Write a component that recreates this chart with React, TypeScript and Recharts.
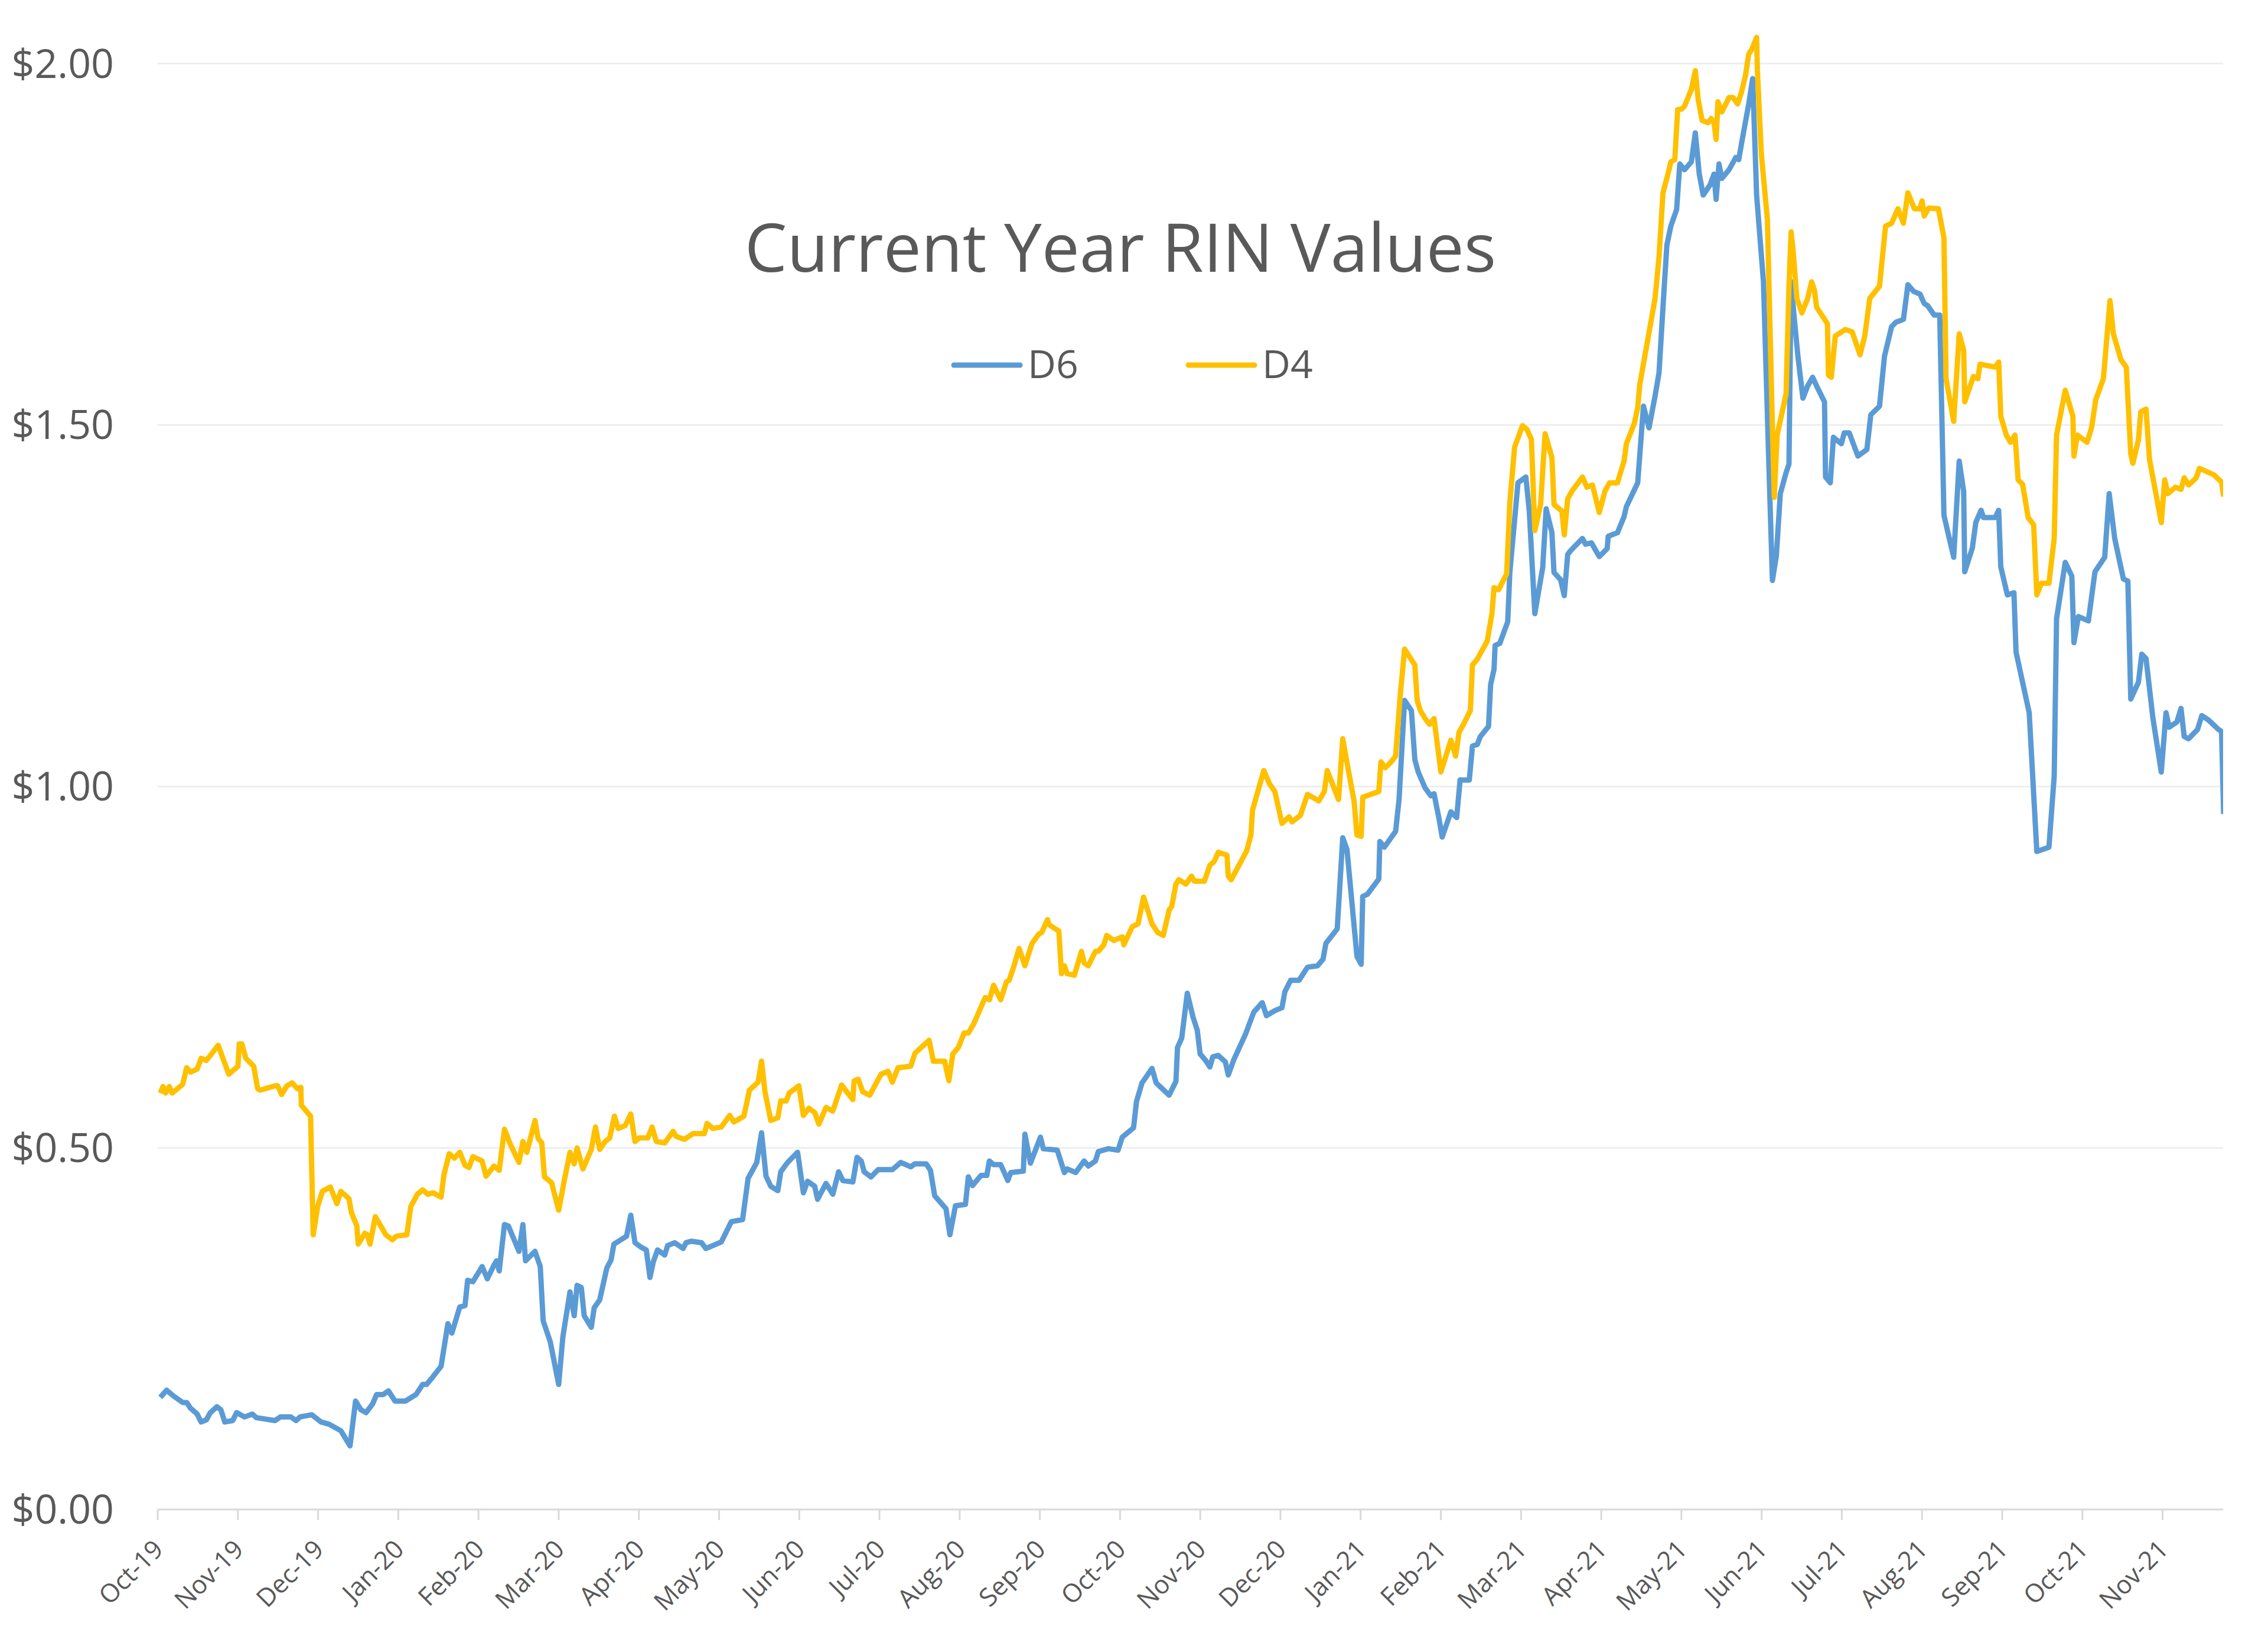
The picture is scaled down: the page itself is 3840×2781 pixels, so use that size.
import React from 'react';
import { LineChart, Line, XAxis, YAxis, ReferenceLine, Legend, Customized } from 'recharts';

// Tick labels
const xTickLabels = [
  'Oct-19', 'Nov-19', 'Dec-19', 'Jan-20', 'Feb-20', 'Mar-20', 'Apr-20', 'May-20', 'Jun-20',
  'Jul-20', 'Aug-20', 'Sep-20', 'Oct-20', 'Nov-20', 'Dec-20', 'Jan-21', 'Feb-21', 'Mar-21',
  'Apr-21', 'May-21', 'Jun-21', 'Jul-21', 'Aug-21', 'Sep-21', 'Oct-21', 'Nov-21',
];
const yTicks = [0, 0.5, 1, 1.5, 2];

// Days since 1 Oct 2019 and prices ($) - D6
const d6Day = [
  1, 3.4, 6, 9.5, 11, 12.5, 15, 16.5, 18.5, 20, 22.5, 24, 25.5, 28.5, 30, 33, 36, 37.5, 44.6, 46.6,
  50.6, 52.6, 54.1, 58.6, 62.1, 65.1, 69.6, 73.1, 75.2, 77.2, 79.2, 81.7, 83.2, 85.7, 87.7, 90.2, 94.2, 98.2, 100.7, 102.2,
  104.7, 107.7, 110.3, 111.8, 114.8, 116.8, 117.8, 119.8, 123.3, 125.3, 127.8, 128.8, 129.8, 131.8, 133.3, 137.3, 138.8, 139.8, 143.4, 145.4,
  146.5, 149.2, 152.4, 154.0, 156.7, 158.3, 159.4, 161.0, 162.1, 164.8, 165.9, 168.0, 170.7, 172.3, 173.4, 175.6, 178.2, 179.8, 181.4, 183.6,
  185.7, 187.1, 188.4, 190.0, 192.7, 193.8, 196.5, 199.7, 200.8, 202.9, 206.7, 208.3, 211.0, 214.2, 218.0, 222.3, 224.4, 227.7, 229.5, 231.2,
  233.0, 235.7, 236.8, 239.4, 243.2, 245.4, 247.0, 249.7, 250.8, 254.0, 256.6, 258.8, 260.4, 264.2, 265.8, 267.4, 268.5, 271.1, 273.8, 279.2,
  282.4, 286.2, 287.8, 292.1, 293.7, 295.3, 299.6, 301.1, 303.2, 307.0, 308.1, 309.7, 312.9, 315.1, 316.1, 317.7, 320.4, 323.1, 324.2, 329.0,
  329.6, 331.7, 335.5, 336.6, 341.9, 344.6, 345.7, 348.9, 352.1, 353.7, 356.4, 357.5, 361.3, 365.0, 366.6, 370.9, 372.0, 374.1, 377.9, 379.5,
  384.4, 387.0, 387.6, 389.2, 391.3, 393.5, 395.1, 396.2, 398.3, 399.9, 401.0, 403.1, 405.8, 406.9, 409.1, 413.4, 416.6, 419.8, 421.4, 424.6,
  427.3, 428.4, 430.6, 433.8, 437.0, 440.8, 442.9, 444.0, 448.3, 450.4, 452.0, 455.8, 457.4, 458.0, 459.8, 464.1, 464.5, 466.2, 470.5, 471.8,
  473.9, 476.5, 477.8, 479.1, 481.7, 483.9, 485.1, 486.9, 488.2, 491.5, 493.7, 495.0, 498.5, 499.7, 501.5, 502.7, 505.8, 506.6, 507.9, 508.3,
  510.1, 513.1, 513.9, 517.0, 520.0, 521.3, 523.4, 526.4, 527.7, 529.9, 530.7, 533.2, 534.6, 535.9, 537.2, 541.5, 542.7, 544.9, 547.9, 550.9,
  551.3, 554.8, 557.3, 558.2, 562.5, 564.7, 566.8, 569.1, 570.6, 572.5, 573.6, 575.1, 577.3, 578.5, 580.3, 582.9, 584.4, 585.9, 587.4, 590.0,
  591.5, 592.3, 593.4, 594.5, 597.2, 599.8, 600.9, 602.4, 604.7, 606.2, 607.7, 610.3, 612.5, 613.7, 615.2, 616.7, 618.9, 620.0, 620.8, 621.9,
  623.4, 625.3, 627.1, 629.0, 630.5, 633.5, 633.9, 635.7, 636.9, 639.9, 641.0, 642.9, 646.2, 649.6, 651.1, 654.4, 656.3, 659.0, 660.6, 663.5,
  665.2, 667.3, 669.8, 671.4, 672.7, 675.2, 677.3, 678.9, 682.6, 684.7, 686.4, 686.8, 689.7, 691.0, 693.0, 693.9, 698.4, 699.7, 700.5, 703.0,
  705.5, 706.3, 711.3, 714.2, 718.8, 720.8, 721.7, 725.0, 727.5, 728.3, 730.0, 733.8, 736.3, 740.0, 741.7, 743.8, 747.1, 748.8, 749.9, 752.8,
  754.1, 755.7, 758.3, 761.5, 763.3, 764.5, 767.4, 769.0, 770.2, 771.9, 775.3, 776.9, 779.4, 783.2, 784.4, 785.2,
];
const d6Price = [
  0.155, 0.165, 0.157, 0.148, 0.148, 0.140, 0.132, 0.121, 0.124, 0.134, 0.142, 0.138, 0.121, 0.123, 0.134, 0.128, 0.132, 0.127, 0.123, 0.128,
  0.128, 0.123, 0.128, 0.131, 0.121, 0.118, 0.109, 0.088, 0.150, 0.138, 0.134, 0.146, 0.159, 0.159, 0.164, 0.150, 0.150, 0.159, 0.173, 0.173,
  0.184, 0.198, 0.257, 0.244, 0.280, 0.282, 0.317, 0.315, 0.336, 0.319, 0.338, 0.344, 0.330, 0.394, 0.392, 0.357, 0.394, 0.344, 0.357, 0.336,
  0.261, 0.232, 0.173, 0.239, 0.301, 0.268, 0.310, 0.307, 0.268, 0.252, 0.279, 0.290, 0.334, 0.345, 0.367, 0.372, 0.378, 0.407, 0.369, 0.363,
  0.359, 0.321, 0.343, 0.359, 0.352, 0.365, 0.369, 0.361, 0.369, 0.371, 0.369, 0.361, 0.365, 0.370, 0.398, 0.401, 0.458, 0.480, 0.521, 0.461,
  0.447, 0.441, 0.467, 0.480, 0.494, 0.438, 0.454, 0.447, 0.429, 0.451, 0.436, 0.467, 0.455, 0.453, 0.487, 0.482, 0.467, 0.460, 0.470, 0.470,
  0.480, 0.474, 0.478, 0.478, 0.469, 0.434, 0.416, 0.380, 0.420, 0.422, 0.460, 0.448, 0.462, 0.462, 0.482, 0.477, 0.477, 0.455, 0.466, 0.468,
  0.519, 0.479, 0.515, 0.499, 0.497, 0.466, 0.471, 0.466, 0.482, 0.475, 0.482, 0.495, 0.499, 0.497, 0.515, 0.528, 0.564, 0.590, 0.610, 0.590,
  0.573, 0.592, 0.639, 0.652, 0.714, 0.681, 0.663, 0.630, 0.621, 0.612, 0.626, 0.628, 0.619, 0.601, 0.623, 0.657, 0.688, 0.701, 0.683, 0.690,
  0.694, 0.716, 0.732, 0.732, 0.750, 0.752, 0.761, 0.783, 0.803, 0.929, 0.913, 0.765, 0.754, 0.848, 0.851, 0.872, 0.924, 0.916, 0.938, 0.982,
  1.119, 1.105, 1.037, 1.020, 0.998, 0.987, 0.990, 0.957, 0.930, 0.965, 0.957, 1.009, 1.009, 1.056, 1.058, 1.069, 1.083, 1.141, 1.162, 1.195,
  1.198, 1.228, 1.296, 1.420, 1.428, 1.381, 1.239, 1.303, 1.384, 1.351, 1.296, 1.286, 1.264, 1.321, 1.327, 1.343, 1.335, 1.337, 1.318, 1.329,
  1.346, 1.351, 1.373, 1.387, 1.420, 1.526, 1.496, 1.540, 1.572, 1.686, 1.749, 1.775, 1.798, 1.861, 1.853, 1.864, 1.904, 1.847, 1.818, 1.832,
  1.847, 1.812, 1.861, 1.841, 1.853, 1.870, 1.867, 1.898, 1.944, 1.979, 1.818, 1.698, 1.428, 1.285, 1.319, 1.405, 1.434, 1.446, 1.698, 1.652,
  1.595, 1.537, 1.554, 1.566, 1.554, 1.532, 1.428, 1.420, 1.483, 1.474, 1.489, 1.489, 1.457, 1.466, 1.514, 1.526, 1.595, 1.636, 1.642, 1.646,
  1.694, 1.685, 1.681, 1.668, 1.665, 1.652, 1.652, 1.375, 1.317, 1.450, 1.408, 1.297, 1.330, 1.365, 1.382, 1.372, 1.372, 1.382, 1.304, 1.265,
  1.268, 1.186, 1.102, 0.910, 0.916, 1.014, 1.232, 1.310, 1.291, 1.199, 1.235, 1.229, 1.297, 1.317, 1.405, 1.343, 1.287, 1.284, 1.121, 1.144,
  1.183, 1.177, 1.095, 1.020, 1.102, 1.082, 1.089, 1.108, 1.069, 1.066, 1.079, 1.098, 1.092, 1.079, 1.076, 0.962,
];

// Days since 1 Oct 2019 and prices ($) - D4
const d4Day = [
  1, 2, 3, 4.4, 5.5, 9.5, 11, 12.5, 15, 16.5, 18.5, 23, 27, 30.5, 31, 32, 33.5, 36.5, 38, 39,
  44.6, 45.6, 47.1, 49.1, 51.1, 53.1, 54.4, 54.6, 58.1, 59.1, 60.8, 62.6, 65.6, 68.1, 69.6, 72.7, 73.6, 75.7, 76.2, 78.7,
  79.7, 80.7, 82.7, 86.7, 89.2, 90.7, 94.7, 96.2, 98.7, 100.7, 102.7, 104.7, 107.7, 108.8, 110.8, 112.8, 114.8, 116.8, 118.3, 119.8,
  123.3, 124.8, 127.8, 129.8, 131.8, 133.8, 137.3, 138.8, 140.3, 143.4, 144.6, 146.0, 147.0, 149.7, 152.4, 154.6, 156.7, 158.3, 159.4, 161.6,
  164.8, 166.4, 168.0, 170.1, 171.8, 173.6, 175.0, 177.7, 179.8, 181.4, 183.0, 186.3, 187.9, 189.5, 192.7, 195.9, 197.0, 200.2, 203.5, 207.8,
  208.8, 211.0, 214.2, 217.4, 219.0, 222.8, 224.9, 228.2, 229.5, 230.8, 233.0, 235.7, 236.8, 238.9, 240.0, 243.7, 245.4, 247.5, 249.7, 251.3,
  254.0, 256.6, 259.9, 264.2, 264.7, 266.3, 267.9, 270.6, 274.9, 277.6, 279.2, 281.4, 286.2, 287.8, 293.2, 294.8, 299.1, 300.7, 302.2, 304.3,
  306.5, 308.1, 310.2, 314.5, 316.1, 317.7, 320.4, 322.6, 323.6, 325.3, 327.4, 329.6, 332.3, 334.9, 336.0, 338.2, 338.7, 342.5, 343.5, 344.6,
  345.7, 348.4, 351.1, 352.1, 353.7, 356.4, 357.5, 359.6, 360.7, 363.4, 366.6, 367.2, 370.4, 372.6, 374.7, 377.9, 380.1, 382.2, 384.4, 385.4,
  387.0, 388.1, 390.8, 392.9, 394.0, 397.8, 399.9, 401.5, 403.1, 406.4, 406.9, 408.0, 413.9, 415.5, 416.1, 420.4, 422.5, 424.6, 427.3, 430.0,
  431.1, 434.3, 437.0, 441.3, 443.4, 444.5, 448.8, 450.4, 452.0, 454.7, 455.8, 457.4, 458.0, 464.1, 464.9, 466.6, 468.8, 470.5, 472.2, 473.9,
  477.8, 478.7, 479.9, 481.7, 483.4, 485.1, 487.7, 491.5, 493.3, 494.6, 496.3, 498.9, 499.7, 501.5, 505.3, 507.1, 507.9, 509.6, 512.7, 513.9,
  515.7, 518.7, 520.4, 522.1, 523.4, 525.6, 527.3, 529.9, 530.7, 533.7, 534.6, 535.9, 537.6, 541.5, 543.2, 545.3, 547.9, 550.1, 551.8, 554.8,
  557.3, 558.2, 561.2, 562.5, 563.3, 569.1, 570.6, 572.1, 574.0, 575.1, 576.6, 577.7, 579.2, 580.3, 582.9, 584.4, 585.5, 587.0, 589.3, 590.4,
  591.5, 592.3, 593.0, 594.5, 597.2, 598.7, 600.5, 602.0, 603.5, 604.7, 605.8, 607.7, 608.0, 609.5, 611.8, 613.7, 614.4, 615.5, 618.9, 620.0,
  620.8, 621.5, 623.0, 624.9, 627.1, 628.6, 629.7, 630.5, 634.6, 635.0, 636.1, 637.6, 641.4, 644.0, 647.0, 648.8, 650.7, 654.4, 656.7, 659.0,
  661.4, 663.5, 665.2, 667.7, 669.8, 670.6, 671.4, 673.1, 676.8, 678.9, 679.7, 682.6, 684.7, 686.4, 686.8, 690.1, 691.8, 692.6, 698.4, 699.7,
  700.5, 702.6, 704.2, 705.9, 707.1, 708.8, 710.9, 713.0, 714.2, 715.9, 718.8, 720.8, 721.7, 725.0, 727.9, 728.3, 729.6, 733.3, 735.0, 736.6,
  739.5, 742.0, 743.3, 746.2, 748.2, 749.9, 750.7, 752.8, 753.7, 755.7, 757.0, 761.5, 762.8, 764.0, 766.9, 769.0, 770.2, 771.9, 774.8, 776.0,
  781.5, 784.4, 785.2,
];
const d4Price = [
  0.576, 0.585, 0.576, 0.585, 0.576, 0.588, 0.611, 0.605, 0.609, 0.624, 0.621, 0.642, 0.602, 0.613, 0.644, 0.644, 0.624, 0.613, 0.582, 0.580,
  0.586, 0.586, 0.574, 0.586, 0.590, 0.582, 0.584, 0.559, 0.544, 0.380, 0.419, 0.440, 0.446, 0.423, 0.440, 0.430, 0.411, 0.392, 0.367, 0.382,
  0.380, 0.367, 0.405, 0.380, 0.373, 0.378, 0.380, 0.419, 0.436, 0.442, 0.436, 0.438, 0.432, 0.463, 0.492, 0.486, 0.494, 0.476, 0.473, 0.488,
  0.482, 0.461, 0.475, 0.469, 0.526, 0.507, 0.480, 0.509, 0.494, 0.538, 0.513, 0.507, 0.460, 0.452, 0.414, 0.456, 0.494, 0.478, 0.500, 0.471,
  0.498, 0.529, 0.498, 0.509, 0.514, 0.544, 0.527, 0.531, 0.547, 0.509, 0.514, 0.514, 0.529, 0.509, 0.507, 0.523, 0.516, 0.512, 0.520, 0.520,
  0.534, 0.527, 0.529, 0.545, 0.536, 0.544, 0.580, 0.591, 0.620, 0.578, 0.538, 0.542, 0.565, 0.565, 0.576, 0.586, 0.545, 0.555, 0.549, 0.533,
  0.556, 0.551, 0.587, 0.567, 0.593, 0.595, 0.578, 0.573, 0.602, 0.606, 0.591, 0.611, 0.613, 0.631, 0.649, 0.620, 0.620, 0.593, 0.630, 0.639,
  0.659, 0.659, 0.672, 0.708, 0.705, 0.725, 0.705, 0.730, 0.732, 0.750, 0.776, 0.752, 0.783, 0.796, 0.798, 0.816, 0.809, 0.800, 0.741, 0.752,
  0.741, 0.739, 0.772, 0.756, 0.752, 0.772, 0.772, 0.781, 0.794, 0.787, 0.792, 0.781, 0.806, 0.810, 0.847, 0.810, 0.798, 0.794, 0.829, 0.834,
  0.865, 0.871, 0.865, 0.876, 0.869, 0.869, 0.891, 0.896, 0.909, 0.905, 0.876, 0.871, 0.911, 0.933, 0.967, 1.022, 1.004, 0.993, 0.949, 0.958,
  0.951, 0.960, 0.989, 0.980, 0.993, 1.022, 0.982, 1.066, 1.033, 0.980, 0.933, 0.931, 0.985, 0.993, 1.034, 1.026, 1.034, 1.042, 1.124, 1.190,
  1.168, 1.119, 1.105, 1.094, 1.086, 1.094, 1.020, 1.064, 1.042, 1.075, 1.086, 1.105, 1.168, 1.176, 1.201, 1.239, 1.275, 1.272, 1.294, 1.392,
  1.469, 1.499, 1.494, 1.480, 1.354, 1.390, 1.488, 1.455, 1.390, 1.381, 1.348, 1.398, 1.409, 1.428, 1.414, 1.417, 1.379, 1.409, 1.420, 1.420,
  1.450, 1.474, 1.502, 1.524, 1.556, 1.675, 1.732, 1.821, 1.847, 1.864, 1.867, 1.936, 1.937, 1.941, 1.964, 1.990, 1.950, 1.921, 1.918, 1.924,
  1.918, 1.895, 1.947, 1.933, 1.953, 1.953, 1.944, 1.961, 1.984, 2.013, 2.019, 2.036, 1.990, 1.875, 1.784, 1.497, 1.400, 1.486, 1.543, 1.692,
  1.767, 1.744, 1.675, 1.655, 1.675, 1.698, 1.686, 1.663, 1.640, 1.569, 1.566, 1.623, 1.632, 1.629, 1.597, 1.623, 1.675, 1.692, 1.775, 1.779,
  1.799, 1.779, 1.821, 1.799, 1.799, 1.810, 1.789, 1.800, 1.799, 1.759, 1.564, 1.505, 1.626, 1.603, 1.532, 1.567, 1.564, 1.584, 1.580, 1.587,
  1.512, 1.486, 1.476, 1.486, 1.424, 1.418, 1.372, 1.362, 1.265, 1.281, 1.281, 1.343, 1.486, 1.548, 1.512, 1.457, 1.486, 1.476, 1.496, 1.535,
  1.564, 1.672, 1.626, 1.590, 1.580, 1.460, 1.447, 1.479, 1.518, 1.522, 1.453, 1.365, 1.424, 1.405, 1.414, 1.411, 1.427, 1.417, 1.427, 1.440,
  1.431, 1.421, 1.401,
];

const X_MAX = 785;
const TICK_STEP = 762 / 25;
const xTicks = xTickLabels.map((_, i) => i * TICK_STEP);

const d6Data = d6Day.map((day, i) => ({ day, value: d6Price[i] }));
const d4Data = d4Day.map((day, i) => ({ day, value: d4Price[i] }));

const FONT = '"Open Sans", "Noto Sans", sans-serif';
const TEXT = '#595959';

const XTick = (props: any) => {
  const { x, y, payload } = props;
  const idx = Math.round(payload.value / TICK_STEP);
  const ax = x + 12;
  const ay = y + 50;
  return (
    <text
      x={ax}
      y={ay}
      textAnchor="end"
      transform={`rotate(-45, ${ax}, ${ay})`}
      fontFamily={FONT}
      fontSize={43}
      fill={TEXT}
    >
      {xTickLabels[idx]}
    </text>
  );
};

const LegendContent = (props: any) => {
  const items = (props.payload || []).filter((p: any) => p.value === 'D6' || p.value === 'D4');
  const ordered = ['D6', 'D4'].map((n) => items.find((p: any) => p.value === n)).filter(Boolean);
  return (
    <svg width={700} height={110} style={{ overflow: 'visible' }}>
      {ordered.map((p: any, i: number) => {
        const off = i * 397;
        return (
          <g key={p.value}>
            <line x1={15 + off} y1={58} x2={127 + off} y2={58} stroke={p.color} strokeWidth={9} strokeLinecap="round" />
            <text x={140 + off} y={80} fontFamily={FONT} fontSize={66} fill={TEXT}>
              {p.value}
            </text>
          </g>
        );
      })}
    </svg>
  );
};

const Title = () => (
  <text x={1897} y={460} textAnchor="middle" fontFamily={FONT} fontSize={114} fill={TEXT}>
    Current Year RIN Values
  </text>
);

export default function App() {
  return (
    <div style={{ position: 'absolute', left: 0, top: 0, width: 3840, height: 2781, background: '#ffffff' }}>
      <LineChart width={3840} height={2781} margin={{ top: 34, right: 76, bottom: 26, left: 8 }}>
        {yTicks.filter((t) => t > 0).map((t) => (
          <ReferenceLine key={t} y={t} stroke="#eeeeee" strokeWidth={3} ifOverflow="extendDomain" />
        ))}
        <XAxis
          type="number"
          dataKey="day"
          domain={[0, X_MAX]}
          ticks={xTicks}
          interval={0}
          height={200}
          tick={<XTick />}
          tickSize={18}
          axisLine={{ stroke: '#d9d9d9', strokeWidth: 3 }}
          tickLine={{ stroke: '#d9d9d9', strokeWidth: 3 }}
          allowDataOverflow
        />
        <YAxis
          type="number"
          domain={[0, 2.06]}
          ticks={yTicks}
          interval={0}
          width={259}
          axisLine={false}
          tickLine={false}
          tickMargin={68}
          tick={{ fontFamily: FONT, fontSize: 68, fill: TEXT }}
          tickFormatter={(v: number) => `$${v.toFixed(2)}`}
        />
        <Legend
          layout="horizontal"
          verticalAlign="middle"
          align="center"
          content={<LegendContent />}
          wrapperStyle={{ position: 'absolute', left: 1600, top: 560, width: 700, height: 110 }}
        />
        <Line
          data={d6Data}
          dataKey="value"
          name="D6"
          stroke="#5b9bd5"
          strokeWidth={9}
          dot={false}
          activeDot={false}
          strokeLinejoin="round"
          isAnimationActive={false}
        />
        <Line
          data={d4Data}
          dataKey="value"
          name="D4"
          stroke="#ffc000"
          strokeWidth={9}
          dot={false}
          activeDot={false}
          strokeLinejoin="round"
          isAnimationActive={false}
        />
        <Customized component={Title} />
      </LineChart>
    </div>
  );
}
